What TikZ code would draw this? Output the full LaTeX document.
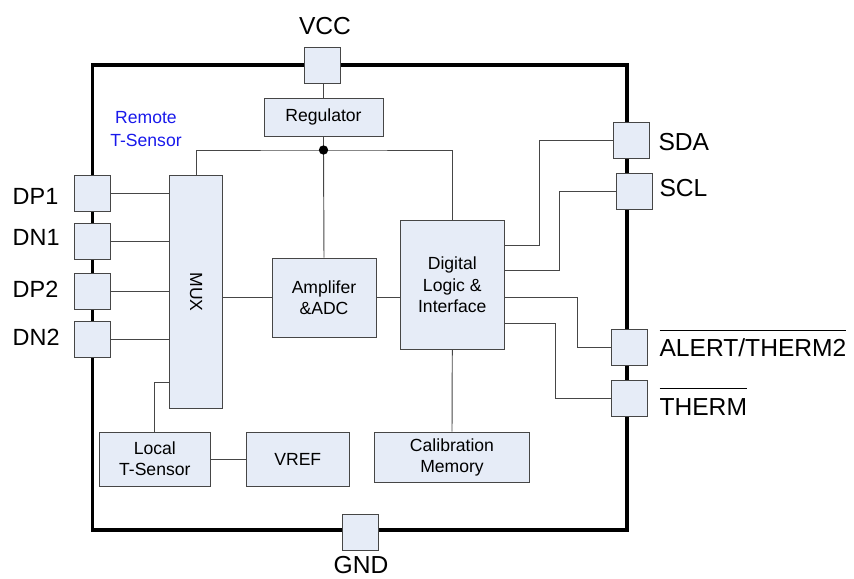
\documentclass[tikz,border=0pt]{standalone}
\usepackage{fontspec}
\setmainfont{Liberation Sans}
\usetikzlibrary{calc}
\definecolor{blockfill}{RGB}{230,236,247}
\definecolor{wire}{RGB}{70,70,70}
\definecolor{remoteblue}{RGB}{25,25,235}
\newcommand{\barred}[1]{$\overline{\rule{0pt}{1.02em}\mbox{#1}}$}

\begin{document}
\begin{tikzpicture}[x=0.03cm, y=-0.03cm,
    pad/.style={draw=wire, fill=blockfill, line width=0.8pt, minimum size=1.08cm, inner sep=0pt},
    block/.style={draw=wire, fill=blockfill, line width=0.8pt, inner sep=0pt, align=center, font=\fontsize{15}{18}\selectfont},
    pin/.style={font=\fontsize{21}{25}\selectfont, inner sep=0pt},
    pinleft/.style={font=\fontsize{20}{24}\selectfont, inner sep=0pt, anchor=base west},
    wire_line/.style={draw=wire, line width=0.8pt}]
        \useasboundingbox (0,0) rectangle (854,579);

        % Gehaeuse
        \draw[line width=3.2pt] (92.5,65) rectangle (626.7,530);

        % Pins am Rand
        \node[pad] (vcc_node) at (322,65) {};
        \node[pad] (gnd_node) at (360,532.5) {};
        \node[pad] (dp1_node) at (92.7,193) {};
        \node[pad] (dn1_node) at (92.7,241) {};
        \node[pad] (dp2_node) at (92.7,291) {};
        \node[pad] (dn2_node) at (92.7,339.5) {};
        \node[pad] (sda_node) at (631.5,140) {};
        \node[pad] (scl_node) at (634.5,191.5) {};
        \node[pad] (alert_node) at (629.3,347) {};
        \node[pad] (therm_node) at (629.3,398) {};

        % Pin-Namen
        \node[pin, anchor=base] (vcc_label) at (325,34.3) {VCC};
        \node[pin, anchor=base] (gnd_label) at (361,573) {GND};
        \node[pinleft] (dp1_label) at (12.5,204.3) {DP1};
        \node[pinleft] (dn1_label) at (12.5,245) {DN1};
        \node[pinleft] (dp2_label) at (12.5,297.3) {DP2};
        \node[pinleft] (dn2_label) at (12.5,345.7) {DN2};
        \node[pin, anchor=base west] (sda_label) at (658.3,150) {SDA};
        \node[pin, anchor=base west] (scl_label) at (659.3,196.7) {SCL};
        \node[pin, anchor=base west] (alert_label) at (659.3,356.7) {\barred{ALERT/THERM2}};
        \node[pin, anchor=base west] (therm_label) at (659.3,415) {\barred{THERM}};

        % Bloecke
        \node[block, minimum width=3.57cm, minimum height=1.14cm] (regulator_node) at (323.5,117) {Regulator};
        \node[block, minimum width=1.57cm, minimum height=6.97cm] (mux_node) at (196,292) {\rotatebox{-90}{MUX}};
        \node[block, minimum width=3.12cm, minimum height=2.37cm] (amp_node) at (324,297.7) {Amplifer\\\&ADC};
        \node[block, minimum width=3.12cm, minimum height=3.86cm] (digital_node) at (452.3,284.8) {Digital\\Logic \&\\Interface};
        \node[block, minimum width=3.33cm, minimum height=1.62cm] (local_node) at (154.8,459) {Local\\T-Sensor};
        \node[block, minimum width=3.09cm, minimum height=1.62cm] (vref_node) at (297.8,459) {VREF};
        \node[block, minimum width=4.63cm, minimum height=1.5cm] (calib_node) at (452,457) {Calibration\\Memory};

        \node[font=\fontsize{15}{19.4}\selectfont, text=remoteblue, align=center, inner sep=0pt] (remote_label) at (146,129) {Remote\\T-Sensor};

        % Versorgung
        \coordinate (supply_jn) at (323.5,150);
        \draw[wire_line] (regulator_node.north) -- (regulator_node.north |- vcc_node.south);
        \draw[wire_line] (regulator_node.south) -- (supply_jn);
        \draw[wire_line] (mux_node.north) |- (supply_jn) -| (digital_node.north);
        \draw[wire_line] (amp_node.north) -- (supply_jn);
        \fill (supply_jn) circle[radius=0.14cm];

        % Eingaenge zum MUX
        \draw[wire_line] (dp1_node.east) -- (dp1_node.east -| mux_node.west);
        \draw[wire_line] (dn1_node.east) -- (dn1_node.east -| mux_node.west);
        \draw[wire_line] (dp2_node.east) -- (dp2_node.east -| mux_node.west);
        \draw[wire_line] (dn2_node.east) -- (dn2_node.east -| mux_node.west);

        \draw[wire_line] (mux_node.east |- amp_node.west) -- (amp_node.west);
        \draw[wire_line] (amp_node.east) -- (amp_node.east -| digital_node.west);
        \draw[wire_line] (mux_node.south west) ++(0,-26) -| (local_node.north);
        \draw[wire_line] (local_node.east) -- (vref_node.west);
        \draw[wire_line] (digital_node.south) -- (calib_node.north);

        % Schnittstelle
        \draw[wire_line] ($(digital_node.east)+(0,-39)$) -- ++(35,0) |- (sda_node.west);
        \draw[wire_line] ($(digital_node.east)+(0,-14)$) -- ++(55,0) |- (scl_node.west);
        \draw[wire_line] ($(digital_node.east)+(0,13)$) -- ++(72.4,0) |- (alert_node.west);
        \draw[wire_line] ($(digital_node.east)+(0,38.5)$) -- ++(50.7,0) |- (therm_node.west);
    \end{tikzpicture}
\end{document}
